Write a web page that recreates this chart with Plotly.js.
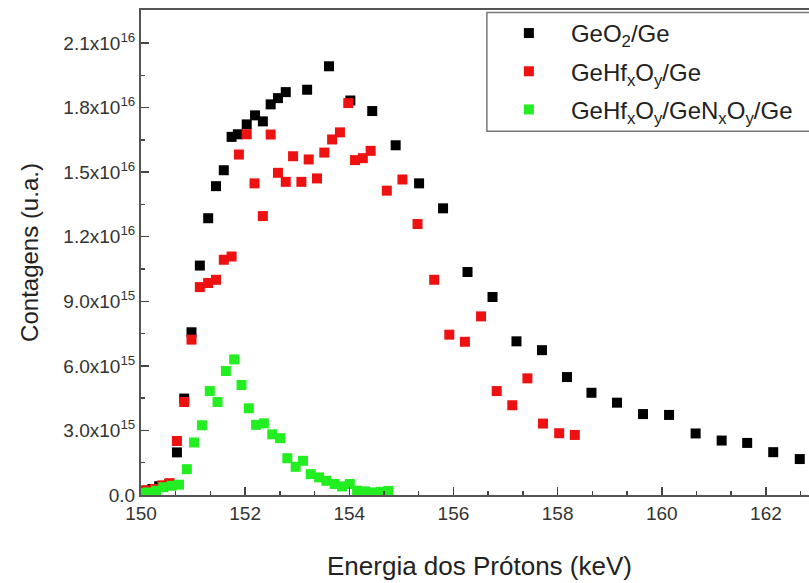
<!DOCTYPE html>
<html>
<head>
<meta charset="utf-8">
<script src="https://cdn.plot.ly/plotly-3.0.1.min.js"></script>
<style>
  html, body { margin: 0; padding: 0; background: #fff; overflow: hidden; }
  #chart { width: 900px; height: 583px; }
</style>
</head>
<body>
<div id="chart"></div>
<script>
// Proton energy (keV) and counts (a.u.) for the three stacks
const geo2Energy = [150.08, 150.22, 150.35, 150.54, 150.69, 150.83, 150.97, 151.13, 151.29, 151.44, 151.59, 151.74, 151.86,
  152.03, 152.19, 152.34, 152.49, 152.63, 152.78, 153.19, 153.61, 154.02, 154.44, 154.89, 155.34, 155.80, 156.27,
  156.75, 157.21, 157.70, 158.18, 158.65, 159.14, 159.64, 160.14, 160.65, 161.15, 161.64, 162.14, 162.65];
const geo2Counts = [0.20e15, 0.28e15, 0.41e15, 0.50e15, 1.98e15, 4.48e15, 7.56e15, 10.66e15, 12.86e15, 14.35e15, 15.09e15,
  16.64e15, 16.76e15, 17.22e15, 17.64e15, 17.36e15, 18.15e15, 18.44e15, 18.72e15, 18.83e15, 19.92e15, 18.33e15,
  17.84e15, 16.25e15, 14.48e15, 13.32e15, 10.36e15, 9.20e15, 7.14e15, 6.73e15, 5.48e15, 4.75e15, 4.29e15, 3.76e15,
  3.72e15, 2.86e15, 2.53e15, 2.42e15, 1.99e15, 1.67e15];

const hfoEnergy = [150.00, 150.13, 150.27, 150.41, 150.55, 150.69, 150.83, 150.97, 151.13, 151.29, 151.44, 151.59, 151.74,
  151.88, 152.03, 152.18, 152.34, 152.49, 152.63, 152.78, 152.92, 153.08, 153.22, 153.38, 153.52, 153.67, 153.82,
  153.98, 154.11, 154.26, 154.41, 154.72, 155.02, 155.31, 155.63, 155.92, 156.22, 156.53, 156.83, 157.13, 157.42,
  157.72, 158.03, 158.33];
const hfoCounts = [0.20e15, 0.22e15, 0.28e15, 0.45e15, 0.55e15, 2.51e15, 4.32e15, 7.22e15, 9.66e15, 9.85e15, 10.0e15,
  10.93e15, 11.08e15, 15.82e15, 16.76e15, 14.48e15, 12.96e15, 16.75e15, 14.97e15, 14.55e15, 15.74e15, 14.55e15,
  15.59e15, 14.71e15, 15.91e15, 16.52e15, 16.85e15, 18.21e15, 15.56e15, 15.65e15, 15.99e15, 14.14e15, 14.66e15,
  12.59e15, 10.0e15, 7.45e15, 7.12e15, 8.30e15, 4.83e15, 4.17e15, 5.42e15, 3.32e15, 2.87e15, 2.79e15];

const nitEnergy = [150.00, 150.14, 150.29, 150.43, 150.59, 150.73, 150.88, 151.02, 151.17, 151.32, 151.47, 151.63, 151.79,
  151.93, 152.07, 152.21, 152.36, 152.52, 152.67, 152.81, 152.97, 153.11, 153.26, 153.42, 153.56, 153.72, 153.86,
  154.01, 154.15, 154.30, 154.46, 154.60, 154.75];
const nitCounts = [0.10e15, 0.12e15, 0.20e15, 0.36e15, 0.43e15, 0.48e15, 1.20e15, 2.44e15, 3.24e15, 4.83e15, 4.32e15,
  5.76e15, 6.30e15, 5.11e15, 4.03e15, 3.26e15, 3.33e15, 2.82e15, 2.64e15, 1.71e15, 1.31e15, 1.59e15, 0.97e15,
  0.82e15, 0.66e15, 0.51e15, 0.40e15, 0.51e15, 0.20e15, 0.17e15, 0.12e15, 0.15e15, 0.19e15];

const seriesNames = [
  'GeO<sub>2</sub>/Ge',
  'GeHf<sub>x</sub>O<sub>y</sub>/Ge',
  'GeHf<sub>x</sub>O<sub>y</sub>/GeN<sub>x</sub>O<sub>y</sub>/Ge'
];
const seriesColors = ['#000000', '#ee1111', '#22ee22'];

const xTickVals = [150, 152, 154, 156, 158, 160, 162];
const xTickText = ['150', '152', '154', '156', '158', '160', '162'];
const yTickVals = [0, 3e15, 6e15, 9e15, 1.2e16, 1.5e16, 1.8e16, 2.1e16];
const yTickText = ['0.0', '3.0x10<sup>15</sup>', '6.0x10<sup>15</sup>', '9.0x10<sup>15</sup>',
  '1.2x10<sup>16</sup>', '1.5x10<sup>16</sup>', '1.8x10<sup>16</sup>', '2.1x10<sup>16</sup>'];

const xs = [geo2Energy, hfoEnergy, nitEnergy];
const ys = [geo2Counts, hfoCounts, nitCounts];

const traces = xs.map((x, i) => ({
  type: 'scatter',
  mode: 'markers',
  x: x,
  y: ys[i],
  name: seriesNames[i],
  legendgroup: 'g' + i,
  marker: { symbol: 'square', size: 10, color: seriesColors[i], line: { width: 0 } }
}));

const font = 'Liberation Sans, Arial, sans-serif';
const axisCommon = {
  showgrid: false,
  zeroline: false,
  showline: true,
  linecolor: '#555',
  linewidth: 2,
  mirror: true,
  ticks: 'inside',
  ticklen: 8,
  tickwidth: 1.5,
  tickcolor: '#444',
  tickfont: { family: font, size: 19, color: '#333' }
};

// plot area: x from 141 px to ~818 px (frame runs just past the page edge)
const layout = {
  width: 900,
  height: 583,
  margin: { l: 141, r: 81.7, t: 9.5, b: 87.5 },
  paper_bgcolor: '#ffffff',
  plot_bgcolor: '#ffffff',
  font: { family: font, color: '#222' },
  showlegend: true,
  xaxis: Object.assign({}, axisCommon, {
    range: [150, 163],
    tickmode: 'array',
    tickvals: xTickVals,
    ticktext: xTickText,
    minor: { tickmode: 'linear', tick0: 150, dtick: 2 / 3, ticks: 'inside', ticklen: 4, tickwidth: 1.5, tickcolor: '#444' },
    title: { text: 'Energia dos Prótons (keV)', font: { family: font, size: 26, color: '#222' }, standoff: 34 }
  }),
  yaxis: Object.assign({}, axisCommon, {
    range: [0, 2.2535e16],
    tickmode: 'array',
    tickvals: yTickVals,
    ticktext: yTickText,
    minor: { tickmode: 'linear', tick0: 0, dtick: 1.5e15, ticks: 'inside', ticklen: 4, tickwidth: 1.5, tickcolor: '#444' },
    title: { text: 'Contagens (u.a.)', font: { family: font, size: 24, color: '#222' }, standoff: 18 }
  }),
  // legend frame, running past the right edge of the page
  shapes: [{
    type: 'rect', xref: 'paper', yref: 'paper',
    x0: 0.5109, x1: 1.2, y0: 0.75, y1: 0.9949,
    line: { color: '#777', width: 1.5 },
    fillcolor: '#ffffff',
    layer: 'below'
  }],
  legend: {
    x: 0.5109,
    y: 0.998,
    xanchor: 'left',
    yanchor: 'top',
    bgcolor: 'rgba(0,0,0,0)',
    borderwidth: 0,
    itemwidth: 74,
    tracegroupgap: 4,
    font: { family: font, size: 24, color: '#222' }
  }
};

Plotly.newPlot('chart', traces, layout, { displayModeBar: false, staticPlot: true });
</script>
</body>
</html>
